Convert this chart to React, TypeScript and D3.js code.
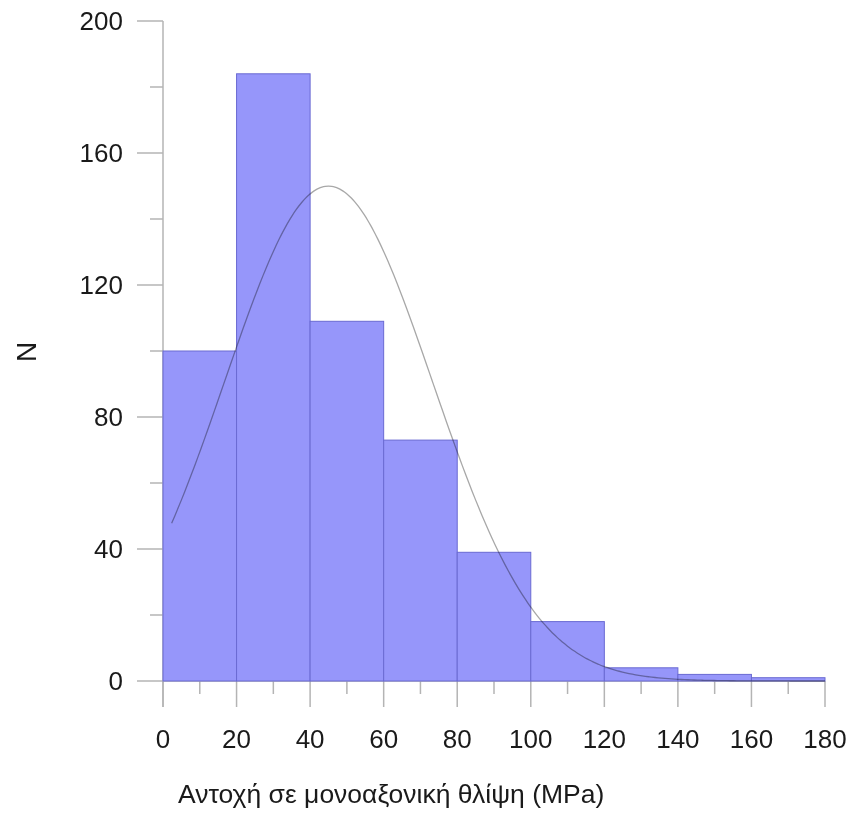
import React from 'react';
import * as d3 from 'd3';

// histogram bins (MPa) and counts
const binStarts = [0, 20, 40, 60, 80, 100, 120, 140, 160];
const binWidth = 20;
const counts = [100, 184, 109, 73, 39, 18, 4, 2, 1];

const xTicks = [0, 20, 40, 60, 80, 100, 120, 140, 160, 180];
const xMinorTicks = [10, 30, 50, 70, 90, 110, 130, 150, 170];
const yTicks = [0, 40, 80, 120, 160, 200];
const yMinorTicks = [20, 60, 100, 140, 180];

// fitted normal curve
const curveMean = 45;
const curveSd = 28.2;
const curveStart = 2.35;
const curveEnd = 180;

const xTitle = 'Αντοχή σε μονοαξονική θλίψη (MPa)';
const yTitle = 'N';

const width = 851;
const height = 817;
const font = '"Liberation Sans", Arial, sans-serif';

export default function App() {
    const x = d3.scaleLinear().domain([0, 180]).range([163, 825]);
    const y = d3.scaleLinear().domain([0, 200]).range([681, 21]);

    const total = d3.sum(counts);
    const scaleFactor = total * binWidth / (curveSd * Math.sqrt(2 * Math.PI));
    const curvePts: [number, number][] = d3.range(0, 201).map(i => {
        const v = curveStart + (curveEnd - curveStart) * i / 200;
        const z = (v - curveMean) / curveSd;
        return [v, scaleFactor * Math.exp(-0.5 * z * z)];
    });
    const line = d3.line<[number, number]>()
        .x(d => x(d[0]))
        .y(d => y(d[1]))
        .curve(d3.curveBasis);

    const axisColor = '#b4b4b4';
    const x0 = x(0);
    const y0 = y(0);

    return (
        <svg width={width} height={height}
             style={{position: 'absolute', left: 0, top: 0, background: '#fff'}}>
            {/* axes lines */}
            <line x1={x0} x2={x0} y1={y(200)} y2={y0 + 26} stroke={axisColor} strokeWidth={1.5}/>
            <line x1={x0} x2={x(180)} y1={y0} y2={y0} stroke={axisColor} strokeWidth={1.5}/>

            {/* y ticks */}
            {yTicks.map(t => (
                <g key={'yt' + t}>
                    <line x1={x0 - 26} x2={x0} y1={y(t)} y2={y(t)} stroke={axisColor} strokeWidth={1.5}/>
                    <text x={123} y={y(t)} dy="0.36em" textAnchor="end"
                          fontFamily={font} fontSize={26} fill="#1a1a1a">{t}</text>
                </g>
            ))}
            {yMinorTicks.map(t => (
                <line key={'ym' + t} x1={x0 - 13} x2={x0} y1={y(t)} y2={y(t)} stroke={axisColor} strokeWidth={1.5}/>
            ))}

            {/* x ticks */}
            {xTicks.map(t => (
                <g key={'xt' + t}>
                    <line x1={x(t)} x2={x(t)} y1={y0} y2={y0 + 26} stroke={axisColor} strokeWidth={1.5}/>
                    <text x={x(t)} y={748} textAnchor="middle"
                          fontFamily={font} fontSize={26} fill="#1a1a1a">{t}</text>
                </g>
            ))}
            {xMinorTicks.map(t => (
                <line key={'xm' + t} x1={x(t)} x2={x(t)} y1={y0} y2={y0 + 13} stroke={axisColor} strokeWidth={1.5}/>
            ))}

            {/* bars */}
            {counts.map((c, i) => (
                <rect key={'b' + i}
                      x={x(binStarts[i])}
                      y={y(c)}
                      width={x(binStarts[i] + binWidth) - x(binStarts[i])}
                      height={y0 - y(c)}
                      fill="#9696fa"
                      stroke="#6a6ad2"
                      strokeWidth={1}/>
            ))}

            {/* normal curve */}
            <path d={line(curvePts) || ''} fill="none" stroke="#a8a8a8" strokeWidth={1.3}
                  style={{mixBlendMode: 'multiply'}}/>

            {/* titles */}
            <text x={178} y={803} fontFamily={font} fontSize={26.5} fill="#1a1a1a">{xTitle}</text>
            <text transform="translate(36,352) rotate(-90)" textAnchor="middle"
                  fontFamily={font} fontSize={28} fill="#1a1a1a">{yTitle}</text>
        </svg>
    );
}
